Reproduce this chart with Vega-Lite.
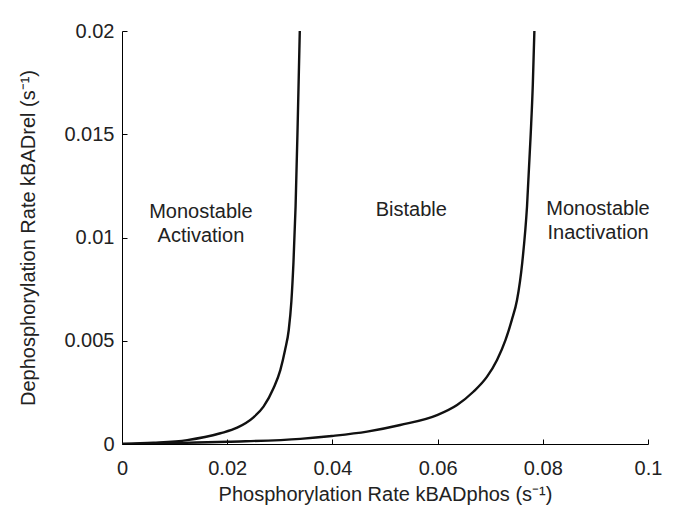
{
  "$schema": "https://vega.github.io/schema/vega-lite/v6.json",
  "width": 526,
  "height": 413,
  "autosize": {"type": "none"},
  "padding": {"left": 122, "top": 31, "right": 25, "bottom": 62},
  "background": "white",
  "config": {
    "view": {"stroke": null},
    "font": "Arial"
  },
  "datasets": {
    "curves": [
      {"c": "a", "x": 0, "y": 0},
      {"c": "a", "x": 0.006, "y": 0.00006},
      {"c": "a", "x": 0.0124, "y": 0.00019},
      {"c": "a", "x": 0.0187, "y": 0.00052},
      {"c": "a", "x": 0.0219, "y": 0.00079},
      {"c": "a", "x": 0.025, "y": 0.00129},
      {"c": "a", "x": 0.0269, "y": 0.00181},
      {"c": "a", "x": 0.0288, "y": 0.0027},
      {"c": "a", "x": 0.0301, "y": 0.00358},
      {"c": "a", "x": 0.031, "y": 0.00455},
      {"c": "a", "x": 0.0317, "y": 0.00552},
      {"c": "a", "x": 0.0322, "y": 0.0069},
      {"c": "a", "x": 0.0326, "y": 0.0088},
      {"c": "a", "x": 0.033, "y": 0.0115},
      {"c": "a", "x": 0.0334, "y": 0.0155},
      {"c": "a", "x": 0.0338, "y": 0.02},
      {"c": "b", "x": 0, "y": 0},
      {"c": "b", "x": 0.02, "y": 0.00011},
      {"c": "b", "x": 0.0339, "y": 0.00025},
      {"c": "b", "x": 0.0399, "y": 0.00039},
      {"c": "b", "x": 0.0466, "y": 0.0006},
      {"c": "b", "x": 0.0529, "y": 0.00092},
      {"c": "b", "x": 0.0599, "y": 0.0014},
      {"c": "b", "x": 0.0637, "y": 0.00189},
      {"c": "b", "x": 0.0668, "y": 0.00253},
      {"c": "b", "x": 0.0694, "y": 0.00326},
      {"c": "b", "x": 0.0713, "y": 0.00407},
      {"c": "b", "x": 0.0729, "y": 0.00503},
      {"c": "b", "x": 0.0741, "y": 0.006},
      {"c": "b", "x": 0.0751, "y": 0.00697},
      {"c": "b", "x": 0.0761, "y": 0.0088},
      {"c": "b", "x": 0.077, "y": 0.0115},
      {"c": "b", "x": 0.0777, "y": 0.015},
      {"c": "b", "x": 0.0781, "y": 0.0174},
      {"c": "b", "x": 0.0784, "y": 0.02}
    ],
    "labels": [
      {"x": 0.015, "y": 0.01123, "t": "Monostable\nActivation"},
      {"x": 0.055, "y": 0.01131, "t": "Bistable"},
      {"x": 0.0905, "y": 0.01138, "t": "Monostable\nInactivation"}
    ]
  },
  "layer": [
    {
      "data": {"name": "curves"},
      "mark": {"type": "line", "color": "#111", "strokeWidth": 2.4, "interpolate": "monotone", "clip": true},
      "encoding": {
        "x": {"field": "x", "type": "quantitative",
              "scale": {"domain": [0, 0.1], "nice": false, "zero": false},
              "axis": {"values": [0, 0.02, 0.04, 0.06, 0.08, 0.1], "format": "~g",
                       "labelFlush": false, "labelOverlap": false,
                       "grid": false, "tickSize": -5, "domainColor": "#000", "tickColor": "#000",
                       "labelColor": "#222", "titleColor": "#222",
                       "labelFont": "Arial", "titleFont": "Arial",
                       "labelFontSize": 20, "titleFontSize": 20, "titleFontWeight": "normal",
                       "labelPadding": 19,
                       "title": "Phosphorylation Rate kBADphos (s⁻¹)", "titlePadding": 6}},
        "y": {"field": "y", "type": "quantitative",
              "scale": {"domain": [0, 0.02], "nice": false},
              "axis": {"values": [0, 0.005, 0.01, 0.015, 0.02], "format": "~g",
                       "labelFlush": false, "labelOverlap": false,
                       "grid": false, "tickSize": -5, "domainColor": "#000", "tickColor": "#000",
                       "labelColor": "#222", "titleColor": "#222",
                       "labelFont": "Arial", "titleFont": "Arial",
                       "labelFontSize": 20, "titleFontSize": 20, "titleFontWeight": "normal",
                       "labelPadding": 13,
                       "title": "Dephosphorylation Rate kBADrel (s⁻¹)", "titlePadding": 25}},
        "detail": {"field": "c"},
        "order": {"field": "y", "type": "quantitative"}
      }
    },
    {
      "data": {"name": "labels"},
      "mark": {"type": "text", "font": "Arial", "fontSize": 20, "color": "#222", "lineBreak": "\n", "lineHeight": 24, "baseline": "middle", "align": "center"},
      "encoding": {
        "x": {"field": "x", "type": "quantitative"},
        "y": {"field": "y", "type": "quantitative"},
        "text": {"field": "t"}
      }
    }
  ]
}
